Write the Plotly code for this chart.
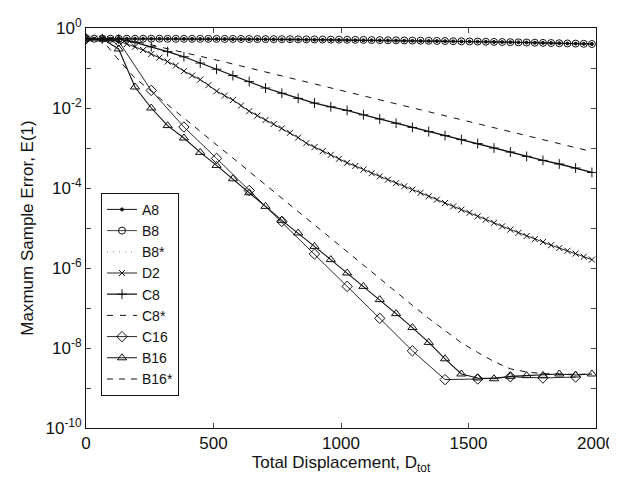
import plotly.graph_objects as go

# ---- data ----
x32 = [32 * i for i in range(63)]     # 0 ... 1984
x64 = [64 * i for i in range(32)]     # 0 ... 1984
x128 = [128 * i for i in range(16)]   # 0 ... 1920

B8 = [0.54, 0.54, 0.54, 0.54, 0.54, 0.54, 0.54, 0.54, 0.54, 0.54,
      0.537, 0.537, 0.537, 0.536, 0.536, 0.536, 0.535, 0.533, 0.533, 0.532,
      0.531, 0.530, 0.528, 0.526, 0.525, 0.524, 0.521, 0.519, 0.518, 0.515,
      0.513, 0.511, 0.508, 0.506, 0.504, 0.500, 0.498, 0.494, 0.492, 0.489,
      0.485, 0.482, 0.479, 0.475, 0.472, 0.468, 0.465, 0.461, 0.457, 0.453,
      0.449, 0.446, 0.442, 0.438, 0.434, 0.429, 0.425, 0.421, 0.416, 0.411,
      0.407, 0.403, 0.398]

A8 = [0.54, 0.54, 0.54, 0.54, 0.54, 0.54, 0.54, 0.54, 0.54, 0.54,
      0.536, 0.536, 0.535, 0.534, 0.533, 0.532, 0.531, 0.529, 0.528, 0.526,
      0.525, 0.523, 0.521, 0.519, 0.517, 0.515, 0.513, 0.511, 0.509, 0.506,
      0.504, 0.502, 0.499, 0.497, 0.494, 0.492, 0.489, 0.487, 0.484, 0.481,
      0.478, 0.476, 0.473, 0.470, 0.467, 0.464, 0.461, 0.458, 0.455, 0.452,
      0.448, 0.445, 0.442, 0.438, 0.434, 0.429, 0.425, 0.421, 0.416, 0.411,
      0.407, 0.403, 0.398]

B8s = [0.54, 0.54, 0.54, 0.54, 0.54, 0.539, 0.538, 0.537, 0.535, 0.533,
       0.531, 0.528, 0.525, 0.522, 0.519, 0.515, 0.511, 0.507, 0.503, 0.498,
       0.494, 0.489, 0.484, 0.479, 0.473, 0.467, 0.462, 0.456, 0.450, 0.443,
       0.437, 0.430]

D2 = [0.537, 0.537, 0.537, 0.513, 0.468, 0.398, 0.339, 0.282, 0.224, 0.182,
      0.145, 0.115, 0.0832, 0.0646, 0.0513, 0.0372, 0.0263, 0.0204, 0.0158, 0.0115,
      8.32e-3, 6.46e-3, 5.01e-3, 3.98e-3, 3.09e-3, 2.40e-3, 1.82e-3, 1.32e-3, 1.05e-3, 8.32e-4,
      6.76e-4, 5.37e-4, 4.27e-4, 3.55e-4, 2.88e-4, 2.34e-4, 1.95e-4, 1.62e-4, 1.32e-4, 1.10e-4,
      9.12e-5, 7.59e-5, 6.17e-5, 5.13e-5, 4.22e-5, 3.47e-5, 2.88e-5, 2.40e-5, 1.95e-5, 1.62e-5,
      1.35e-5, 1.10e-5, 9.12e-6, 7.59e-6, 6.31e-6, 5.25e-6, 4.47e-6, 3.72e-6, 3.16e-6, 2.69e-6,
      2.29e-6, 1.91e-6, 1.62e-6]

C8 = [0.537, 0.537, 0.525, 0.437, 0.339, 0.257, 0.191, 0.133, 0.0933, 0.0646,
      0.0457, 0.0316, 0.0234, 0.0174, 0.0133, 0.0107, 8.71e-3, 6.76e-3, 5.31e-3, 4.17e-3,
      3.27e-3, 2.57e-3, 2.04e-3, 1.62e-3, 1.29e-3, 1.00e-3, 7.94e-4, 6.17e-4, 4.90e-4, 3.98e-4,
      3.16e-4, 2.45e-4]

C8s = [0.537, 0.537, 0.525, 0.457, 0.380, 0.302, 0.245, 0.200, 0.158, 0.126,
       0.100, 0.0794, 0.0631, 0.0501, 0.0398, 0.0316, 0.0251, 0.0200, 0.0158, 0.0126,
       0.0100, 7.94e-3, 6.31e-3, 5.01e-3, 3.98e-3, 3.16e-3, 2.51e-3, 2.00e-3, 1.58e-3, 1.26e-3,
       1.00e-3, 8.13e-4]

C16 = [0.537, 0.468, 0.0275, 3.35e-3, 5.50e-4, 8.71e-5, 1.46e-5, 2.24e-6, 3.47e-7, 5.50e-8,
       8.51e-9, 1.62e-9, 1.68e-9, 1.91e-9, 1.78e-9, 1.88e-9]

B16 = [0.537, 0.537, 0.299, 0.0335, 0.0100, 3.63e-3, 1.78e-3, 7.76e-4, 3.67e-4, 1.70e-4,
       7.59e-5, 3.47e-5, 1.55e-5, 7.50e-6, 3.47e-6, 1.62e-6, 7.50e-7, 3.47e-7, 1.62e-7, 7.24e-8,
       3.24e-8, 1.38e-8, 5.37e-9, 2.24e-9, 1.78e-9, 1.70e-9, 1.95e-9, 2.04e-9, 2.07e-9, 2.24e-9,
       2.11e-9, 2.24e-9]

B16s = [0.537, 0.501, 0.158, 0.0562, 0.0263, 0.0120, 5.62e-3, 2.60e-3, 1.20e-3, 5.62e-4,
        2.57e-4, 1.20e-4, 5.62e-5, 2.57e-5, 1.20e-5, 5.50e-6, 2.57e-6, 1.17e-6, 5.50e-7, 2.51e-7,
        1.17e-7, 5.50e-8, 2.69e-8, 1.35e-8, 7.76e-9, 4.57e-9, 3.02e-9, 2.51e-9, 2.29e-9, 2.24e-9,
        2.19e-9, 2.24e-9]

x_ticks = [0, 500, 1000, 1500, 2000]
y_ticks = [10.0 ** -k for k in range(10, -1, -1)]
y_text = ["10<sup>-%d</sup>" % k if k % 2 == 0 and k > 0 else ("10<sup>0</sup>" if k == 0 else "")
          for k in range(10, -1, -1)]

INK = "#111111"
fig = go.Figure()

def add(name, xs, ys, symbol=None, size=7, width=1.0, dash="solid"):
    mode = "lines+markers" if symbol else "lines"
    kw = dict(x=xs, y=ys, name=name, mode=mode,
              line=dict(color=INK, width=width, dash=dash))
    if symbol:
        kw["marker"] = dict(symbol=symbol, size=size, color=INK,
                            line=dict(color=INK, width=1))
    fig.add_trace(go.Scatter(**kw))

add("A8", x32, A8, symbol="circle", size=3, width=1.0)
add("B8", x32, B8, symbol="circle-open", size=7, width=0.8)
add("B8*", x64, B8s, width=0.5, dash="1px,5px")
add("D2", x32, D2, symbol="x-thin-open", size=6, width=0.9)
add("C8", x64, C8, symbol="cross-thin-open", size=7, width=1.3)
add("C8*", x64, C8s, width=1.0, dash="6px,7px")
add("C16", x128, C16, symbol="diamond-open", size=8, width=0.9)
add("B16", x64, B16, symbol="triangle-up-open", size=8, width=1.1)
add("B16*", x64, B16s, width=1.0, dash="6px,6px")

# The page body has an 8px margin, so the figure is made 8px smaller and
# its left/top margins 8px narrower to land the plot where the reference has it.
FONT = "Liberation Sans, Arial, sans-serif"
fig.update_layout(
    width=609, height=472,
    margin=dict(l=78, r=21, t=20, b=52, autoexpand=False),
    paper_bgcolor="white", plot_bgcolor="white",
    font=dict(family=FONT, size=17, color=INK),
    showlegend=True,
    legend=dict(x=0.0294, y=0.588, xanchor="left", yanchor="top",
                bordercolor=INK, borderwidth=1, bgcolor="white",
                font=dict(size=14, family=FONT, color=INK),
                tracegroupgap=0, itemwidth=30),
    xaxis=dict(range=[0, 2000], tickvals=x_ticks, ticks="inside", ticklen=5,
               showline=True, linecolor=INK, linewidth=1, mirror="ticks",
               showgrid=False, zeroline=False, tickfont=dict(size=17),
               ticklabeloverflow="allow",
               title=dict(text="Total Displacement, D<sub>tot</sub>", font=dict(size=17), standoff=2)),
    yaxis=dict(type="log", range=[-10, 0], tickvals=y_ticks, ticktext=y_text,
               ticks="inside", ticklen=5,
               showline=True, linecolor=INK, linewidth=1, mirror="ticks",
               showgrid=False, zeroline=False, tickfont=dict(size=17),
               ticklabeloverflow="allow",
               title=dict(text="Maxmum Sample Error, E(1)", font=dict(size=17), standoff=7)),
)

fig.write_html("out.html")
